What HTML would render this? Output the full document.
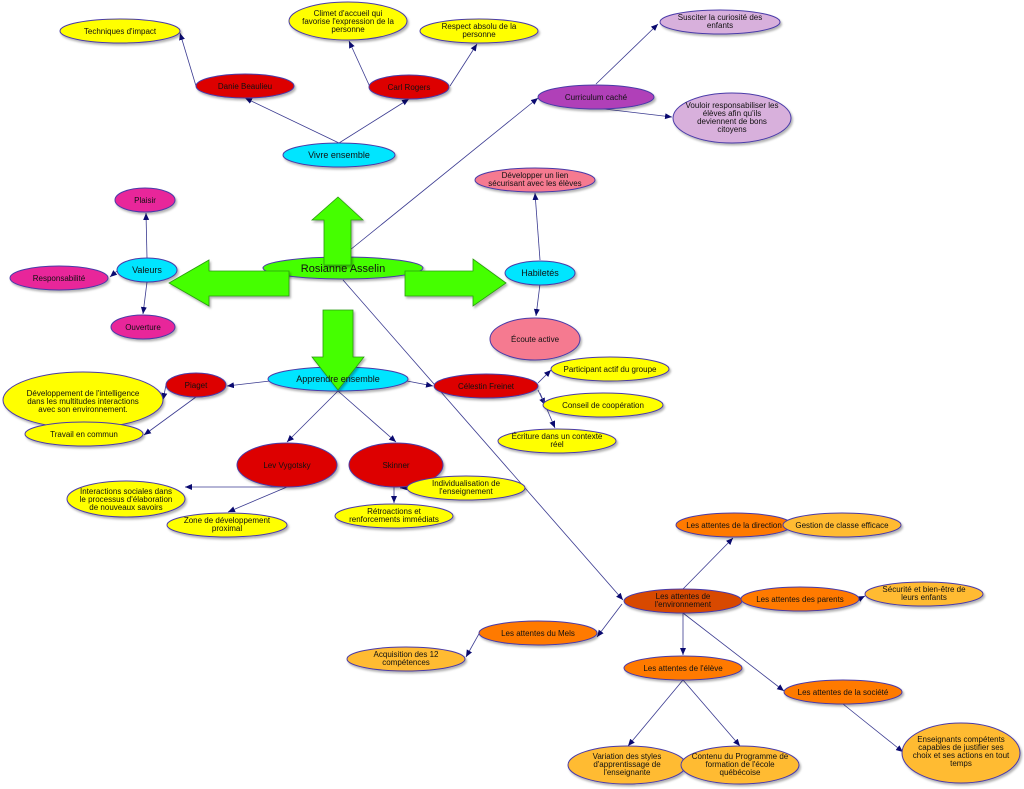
<!DOCTYPE html>
<html><head><meta charset="utf-8"><style>
html,body{margin:0;padding:0;background:#fff;}
svg{display:block;}
text{font-family:"Liberation Sans",Arial,sans-serif;font-size:8px;fill:#111;text-anchor:middle;}
ellipse{stroke:#4a3aa8;stroke-width:1;}
line{stroke:#3a3a90;stroke-width:0.8;}
</style></head><body>
<svg width="1024" height="789" viewBox="0 0 1024 789" xmlns="http://www.w3.org/2000/svg">
<defs>
<marker id="a" markerWidth="8" markerHeight="8" refX="7" refY="3" orient="auto" markerUnits="userSpaceOnUse"><path d="M0,0 L7,3 L0,6 z" fill="#0a0a70"/></marker>
<filter id="s" x="-10%" y="-10%" width="130%" height="140%"><feDropShadow dx="1.5" dy="2" stdDeviation="1" flood-color="#000" flood-opacity="0.3"/></filter>
</defs>
<g marker-end="url(#a)">
<line x1="339" y1="143" x2="245" y2="98"/>
<line x1="339" y1="143" x2="409" y2="99"/>
<line x1="196" y1="86" x2="180" y2="33"/>
<line x1="370" y1="87" x2="349" y2="41"/>
<line x1="450" y1="86" x2="477" y2="44"/>
<line x1="350" y1="250" x2="538" y2="98"/>
<line x1="596" y1="84" x2="658" y2="24"/>
<line x1="596" y1="108" x2="672" y2="117"/>
<line x1="540" y1="260" x2="535" y2="193"/>
<line x1="540" y1="284" x2="536" y2="316"/>
<line x1="147" y1="258" x2="146" y2="213"/>
<line x1="117" y1="271" x2="110" y2="277"/>
<line x1="147" y1="282" x2="143" y2="314"/>
<line x1="343" y1="280" x2="623" y2="600"/>
<line x1="270" y1="381" x2="227" y2="386"/>
<line x1="166" y1="385" x2="163" y2="400"/>
<line x1="196" y1="397" x2="144" y2="435"/>
<line x1="407" y1="381" x2="433" y2="386"/>
<line x1="538" y1="383" x2="551" y2="370"/>
<line x1="538" y1="390" x2="545" y2="405"/>
<line x1="540" y1="393" x2="555" y2="428"/>
<line x1="338" y1="391" x2="287" y2="442"/>
<line x1="338" y1="391" x2="396" y2="442"/>
<line x1="287" y1="487" x2="185" y2="487"/>
<line x1="287" y1="487" x2="228" y2="512"/>
<line x1="394" y1="487" x2="394" y2="503"/>
<line x1="410" y1="487" x2="400" y2="488"/>
<line x1="683" y1="589" x2="733" y2="538"/>
<line x1="622" y1="604" x2="597" y2="637"/>
<line x1="480" y1="632" x2="466" y2="657"/>
<line x1="683" y1="613" x2="683" y2="655"/>
<line x1="683" y1="613" x2="784" y2="691"/>
<line x1="683" y1="680" x2="628" y2="746"/>
<line x1="683" y1="680" x2="740" y2="746"/>
<line x1="843" y1="704" x2="903" y2="752"/>
<line x1="859" y1="599" x2="865" y2="596"/>
</g>
<g filter="url(#s)">
<ellipse cx="120" cy="31" rx="60" ry="12" fill="#ffff00"/>
<ellipse cx="348" cy="21" rx="59" ry="19" fill="#ffff00"/>
<ellipse cx="479" cy="31" rx="59" ry="12" fill="#ffff00"/>
<ellipse cx="245" cy="86" rx="49" ry="12" fill="#dd0000"/>
<ellipse cx="409" cy="87" rx="40" ry="12" fill="#dd0000"/>
<ellipse cx="339" cy="155" rx="56" ry="12" fill="#00e5ff"/>
<ellipse cx="596" cy="97" rx="58" ry="12" fill="#b040b8"/>
<ellipse cx="720" cy="22" rx="60" ry="12" fill="#d8b0dc"/>
<ellipse cx="732" cy="118" rx="59" ry="25" fill="#d8b0dc"/>
<ellipse cx="535" cy="180" rx="60" ry="12" fill="#f57a90"/>
<ellipse cx="540" cy="273" rx="35" ry="12" fill="#00e5ff"/>
<ellipse cx="535" cy="339" rx="45" ry="21" fill="#f57a90"/>
<ellipse cx="145" cy="200" rx="30" ry="12" fill="#e8259a"/>
<ellipse cx="147" cy="270" rx="30" ry="12" fill="#00e5ff"/>
<ellipse cx="59" cy="278" rx="49" ry="12" fill="#e8259a"/>
<ellipse cx="143" cy="327" rx="32" ry="12" fill="#e8259a"/>
<ellipse cx="343" cy="268" rx="80" ry="11" fill="#44ff00"/>
<ellipse cx="338" cy="379" rx="70" ry="12" fill="#00e5ff"/>
<ellipse cx="83" cy="400" rx="80" ry="28" fill="#ffff00"/>
<ellipse cx="84" cy="434" rx="59" ry="12" fill="#ffff00"/>
<ellipse cx="196" cy="385" rx="30" ry="12" fill="#dd0000"/>
<ellipse cx="486" cy="386" rx="52" ry="12" fill="#dd0000"/>
<ellipse cx="610" cy="369" rx="59" ry="12" fill="#ffff00"/>
<ellipse cx="603" cy="405" rx="60" ry="12" fill="#ffff00"/>
<ellipse cx="557" cy="441" rx="59" ry="12" fill="#ffff00"/>
<ellipse cx="287" cy="465" rx="50" ry="22" fill="#dd0000"/>
<ellipse cx="396" cy="465" rx="47" ry="22" fill="#dd0000"/>
<ellipse cx="126" cy="499" rx="59" ry="18" fill="#ffff00"/>
<ellipse cx="227" cy="525" rx="60" ry="12" fill="#ffff00"/>
<ellipse cx="466" cy="488" rx="59" ry="12" fill="#ffff00"/>
<ellipse cx="394" cy="516" rx="59" ry="12" fill="#ffff00"/>
<ellipse cx="734" cy="525" rx="58" ry="12" fill="#ff7a00"/>
<ellipse cx="842" cy="525" rx="59" ry="12" fill="#ffbb33"/>
<ellipse cx="683" cy="601" rx="59" ry="12" fill="#d84a00"/>
<ellipse cx="800" cy="599" rx="59" ry="12" fill="#ff7a00"/>
<ellipse cx="924" cy="594" rx="59" ry="12" fill="#ffbb33"/>
<ellipse cx="538" cy="633" rx="59" ry="12" fill="#ff7a00"/>
<ellipse cx="406" cy="659" rx="59" ry="12" fill="#ffbb33"/>
<ellipse cx="683" cy="668" rx="59" ry="12" fill="#ff7a00"/>
<ellipse cx="843" cy="692" rx="59" ry="12" fill="#ff7a00"/>
<ellipse cx="627" cy="765" rx="59" ry="19" fill="#ffbb33"/>
<ellipse cx="740" cy="765" rx="59" ry="19" fill="#ffbb33"/>
<ellipse cx="961" cy="753" rx="59" ry="30" fill="#ffbb33"/>
</g>
<g fill="#44ff00" stroke="#2a9a10" stroke-width="0.8" filter="url(#s)">
<polygon points="338,197 363,220 351,220 351,265 324,265 324,220 312,220"/>
<polygon points="169,283 209,260 209,271 289,271 289,296 209,296 209,306"/>
<polygon points="506,283 473,259 473,271 405,271 405,296 473,296 473,306"/>
<polygon points="338,390 364,357 353,357 353,310 323,310 323,357 312,357"/>
</g>
<text x="120" y="34">Techniques d'impact</text>
<text x="348" y="16">Climet d'accueil qui</text><text x="348" y="24">favorise l'expression de la</text><text x="348" y="32">personne</text>
<text x="479" y="29">Respect absolu de la</text><text x="479" y="37">personne</text>
<text x="245" y="89">Danie Beaulieu</text>
<text x="409" y="90">Carl Rogers</text>
<text x="339" y="158" style="font-size:9px">Vivre ensemble</text>
<text x="596" y="100">Curriculum caché</text>
<text x="720" y="20">Susciter la curiosité des</text><text x="720" y="28">enfants</text>
<text x="732" y="108">Vouloir responsabiliser les</text><text x="732" y="116">élèves afin qu'ils</text><text x="732" y="124">deviennent de bons</text><text x="732" y="132">citoyens</text>
<text x="535" y="178">Développer un lien</text><text x="535" y="186">sécurisant avec les élèves</text>
<text x="540" y="276" style="font-size:9px">Habiletés</text>
<text x="535" y="342">Écoute active</text>
<text x="145" y="203">Plaisir</text>
<text x="147" y="273" style="font-size:9px">Valeurs</text>
<text x="59" y="281">Responsabilité</text>
<text x="143" y="330">Ouverture</text>
<text x="343" y="272" style="font-size:11px">Rosianne Asselin</text>
<text x="338" y="382" style="font-size:9px">Apprendre ensemble</text>
<text x="196" y="388">Piaget</text>
<text x="83" y="396">Développement de l'intelligence</text><text x="83" y="404">dans les multitudes interactions</text><text x="83" y="412">avec son environnement.</text>
<text x="84" y="437">Travail en commun</text>
<text x="486" y="389">Célestin Freinet</text>
<text x="610" y="372">Participant actif du groupe</text>
<text x="603" y="408">Conseil de coopération</text>
<text x="557" y="439">Écriture dans un contexte</text><text x="557" y="447">réel</text>
<text x="287" y="468">Lev Vygotsky</text>
<text x="396" y="468">Skinner</text>
<text x="126" y="494">Interactions sociales dans</text><text x="126" y="502">le processus d'élaboration</text><text x="126" y="510">de nouveaux savoirs</text>
<text x="227" y="523">Zone de développement</text><text x="227" y="531">proximal</text>
<text x="466" y="486">Individualisation de</text><text x="466" y="494">l'enseignement</text>
<text x="394" y="514">Rétroactions et</text><text x="394" y="522">renforcements immédiats</text>
<text x="734" y="528">Les attentes de la direction</text>
<text x="842" y="528">Gestion de classe efficace</text>
<text x="683" y="599">Les attentes de</text><text x="683" y="607">l'environnement</text>
<text x="800" y="602">Les attentes des parents</text>
<text x="924" y="592">Sécurité et bien-être de</text><text x="924" y="600">leurs enfants</text>
<text x="538" y="636">Les attentes du Mels</text>
<text x="406" y="657">Acquisition des 12</text><text x="406" y="665">compétences</text>
<text x="683" y="671">Les attentes de l'élève</text>
<text x="843" y="695">Les attentes de la société</text>
<text x="627" y="759">Variation des styles</text><text x="627" y="767">d'apprentissage de</text><text x="627" y="775">l'enseignante</text>
<text x="740" y="759">Contenu du Programme de</text><text x="740" y="767">formation de l'école</text><text x="740" y="775">québécoise</text>
<text x="961" y="742">Enseignants compétents</text><text x="961" y="750">capables de justifier ses</text><text x="961" y="758">choix et ses actions en tout</text><text x="961" y="766">temps</text>
</svg>
</body></html>
